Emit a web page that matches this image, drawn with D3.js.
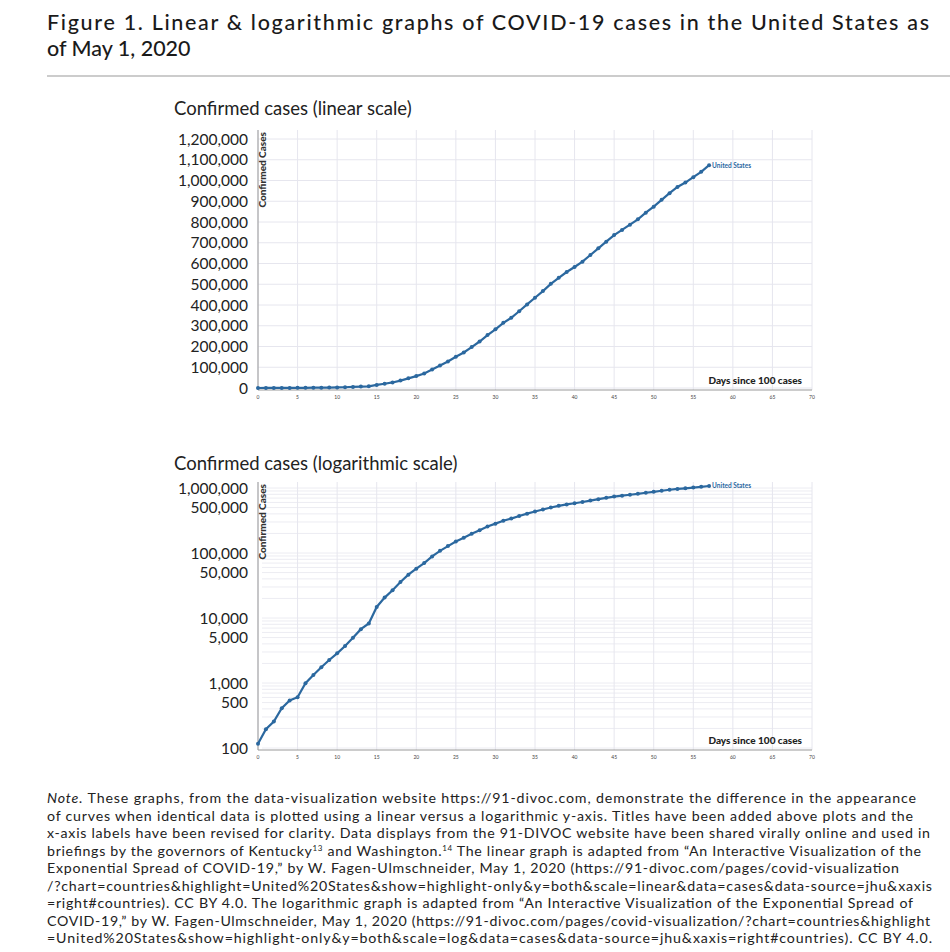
<!DOCTYPE html>
<html><head><meta charset="utf-8">
<script src="https://cdn.jsdelivr.net/npm/d3@7"></script>
<style>body{margin:0;background:#fff}</style></head>
<body><svg id="c" width="950" height="952"></svg>
<script>
const days = d3.range(0, 58);
const cases = [116,195,256,410,538,605,990,1330,1743,2257,2860,3700,4970,6740,8240,14800,20600,26700,35800,46400,57400,70000,88700,108000,127600,150600,171000,197000,224000,255000,283000,314000,338000,370000,403000,435000,467000,502000,531000,559000,583000,609000,641000,673000,705000,737000,762000,787000,813000,845000,874000,907000,939000,969000,990000,1016000,1042000,1074000];
const linTicks = d3.range(0, 1300000, 100000);
const logTicks = [100,500,1000,5000,10000,50000,100000,500000,1000000];
const xTicks = d3.range(0, 75, 5);
const titleLines = ["Figure 1.  Linear & logarithmic graphs of COVID-19 cases in the United States as","of May 1, 2020"];
const noteLines = [
"<tspan font-style='italic'>Note.</tspan> These graphs, from the data-visualization website https://91-divoc.com, demonstrate the difference in the appearance",
"of curves when identical data is plotted using a linear versus a logarithmic y-axis. Titles have been added above plots and the",
"x-axis labels have been revised for clarity. Data displays from the 91-DIVOC website have been shared virally online and used in",
"briefings by the governors of Kentucky<tspan font-size='8' dy='-5'>13</tspan><tspan dy='5'> and Washington.</tspan><tspan font-size='8' dy='-5'>14</tspan><tspan dy='5'> The linear graph is adapted from “An Interactive Visualization of the</tspan>",
"Exponential Spread of COVID-19,” by W. Fagen-Ulmschneider, May 1, 2020 (https://91-divoc.com/pages/covid-visualization",
"/?chart=countries&amp;highlight=United%20States&amp;show=highlight-only&amp;y=both&amp;scale=linear&amp;data=cases&amp;data-source=jhu&amp;xaxis",
"=right#countries). CC BY 4.0. The logarithmic graph is adapted from “An Interactive Visualization of the Exponential Spread of",
"COVID-19,” by W. Fagen-Ulmschneider, May 1, 2020 (https://91-divoc.com/pages/covid-visualization/?chart=countries&amp;highlight",
"=United%20States&amp;show=highlight-only&amp;y=both&amp;scale=log&amp;data=cases&amp;data-source=jhu&amp;xaxis=right#countries). CC BY 4.0."];
const noteEnds = [916,913,930,921,899,932,913,930,932];

const svg = d3.select("#c");
const F = "Lato, 'Open Sans', sans-serif";
const blue = "#2b689f";
titleLines.forEach((t,i)=>svg.append("text").attr("x",47).attr("y",30+i*26).attr("font-family",F).attr("font-size",21.5).attr("font-weight",500).attr("fill","#1a1a1a").attr("textLength",i===0?882:null).text(t));
svg.append("line").attr("x1",47).attr("x2",950).attr("y1",76).attr("y2",76).attr("stroke","#999");

const x = d3.scaleLinear().domain([0,70]).range([258,812]);
const data = days.map((d,i)=>({d, v:cases[i]}));

function panel(title, titleY, y, ticks, top, bottom, isLog){
  const g = svg.append("g");
  g.append("text").attr("x",174).attr("y",titleY).attr("font-family",F).attr("font-size",18.5).attr("fill","#222").text(title);
  if(isLog){
    const minor=[];
    for(let e=2;e<6;e++) for(let m=1;m<10;m++) minor.push(m*Math.pow(10,e));
    minor.push(1e6);
    g.selectAll(".gm").data(minor).join("line").attr("x1",262).attr("x2",812).attr("y1",d=>y(d)).attr("y2",d=>y(d)).attr("stroke","#ececf2");
  } else {
    g.selectAll(".gh").data(ticks).join("line").attr("x1",258).attr("x2",812).attr("y1",d=>y(d)).attr("y2",d=>y(d)).attr("stroke","#e6e6ee");
  }
  g.selectAll(".gv").data(xTicks).join("line").attr("x1",d=>x(d)).attr("x2",d=>x(d)).attr("y1",top).attr("y2",bottom).attr("stroke","#e6e6ee");
  g.append("line").attr("x1",258).attr("x2",258).attr("y1",top).attr("y2",bottom).attr("stroke","#999");
  g.append("line").attr("x1",258).attr("x2",812).attr("y1",bottom).attr("y2",bottom).attr("stroke","#999");
  g.selectAll(".yl").data(ticks).join("text").attr("x",248).attr("y",d=>y(d)+5.5).attr("text-anchor","end").attr("font-family",F).attr("font-size",15.5).attr("fill","#222").text(d=>d3.format(",")(d));
  g.selectAll(".xl").data(xTicks).join("text").attr("x",d=>x(d)).attr("y",bottom+9).attr("text-anchor","middle").attr("font-family",F).attr("font-size",5).attr("fill","#444").text(d=>d);
  g.append("text").attr("transform",`translate(266,${top+2}) rotate(-90)`).attr("text-anchor","end").attr("font-family",F).attr("font-size",10).attr("font-weight",900).attr("fill","#333").text("Confirmed Cases");
  g.append("text").attr("x",802).attr("y",bottom-6).attr("text-anchor","end").attr("font-family",F).attr("font-size",10).attr("font-weight",900).attr("fill","#222").text("Days since 100 cases");
  const line = d3.line().x(d=>x(d.d)).y(d=>y(d.v));
  g.append("path").datum(data).attr("d",line).attr("fill","none").attr("stroke",blue).attr("stroke-width",2.2);
  g.selectAll(".pt").data(data).join("circle").attr("cx",d=>x(d.d)).attr("cy",d=>y(d.v)).attr("r",2).attr("fill",blue);
  const last = data[data.length-1];
  g.append("text").attr("x",x(last.d)+3).attr("y",y(last.v)+2.5).attr("font-family",F).attr("font-size",6.5).attr("font-weight",700).attr("fill",blue).text("United States");
}
const yLin = d3.scaleLinear().domain([0,1200000]).range([388,139]);
panel("Confirmed cases (linear scale)",115,yLin,linTicks,130,390,false);
const yLog = d3.scaleLog().domain([100,1000000]).range([748,488]);
panel("Confirmed cases (logarithmic scale)",470,yLog,logTicks,482,750,true);

noteLines.forEach((t,i)=>{
  svg.append("text").attr("x",47).attr("y",803+i*17.5).attr("font-family",F).attr("font-size",14.2).attr("fill","#222")
    .attr("textLength",noteEnds[i]-47).attr("lengthAdjust","spacing").html(t);
});
</script></body></html>
